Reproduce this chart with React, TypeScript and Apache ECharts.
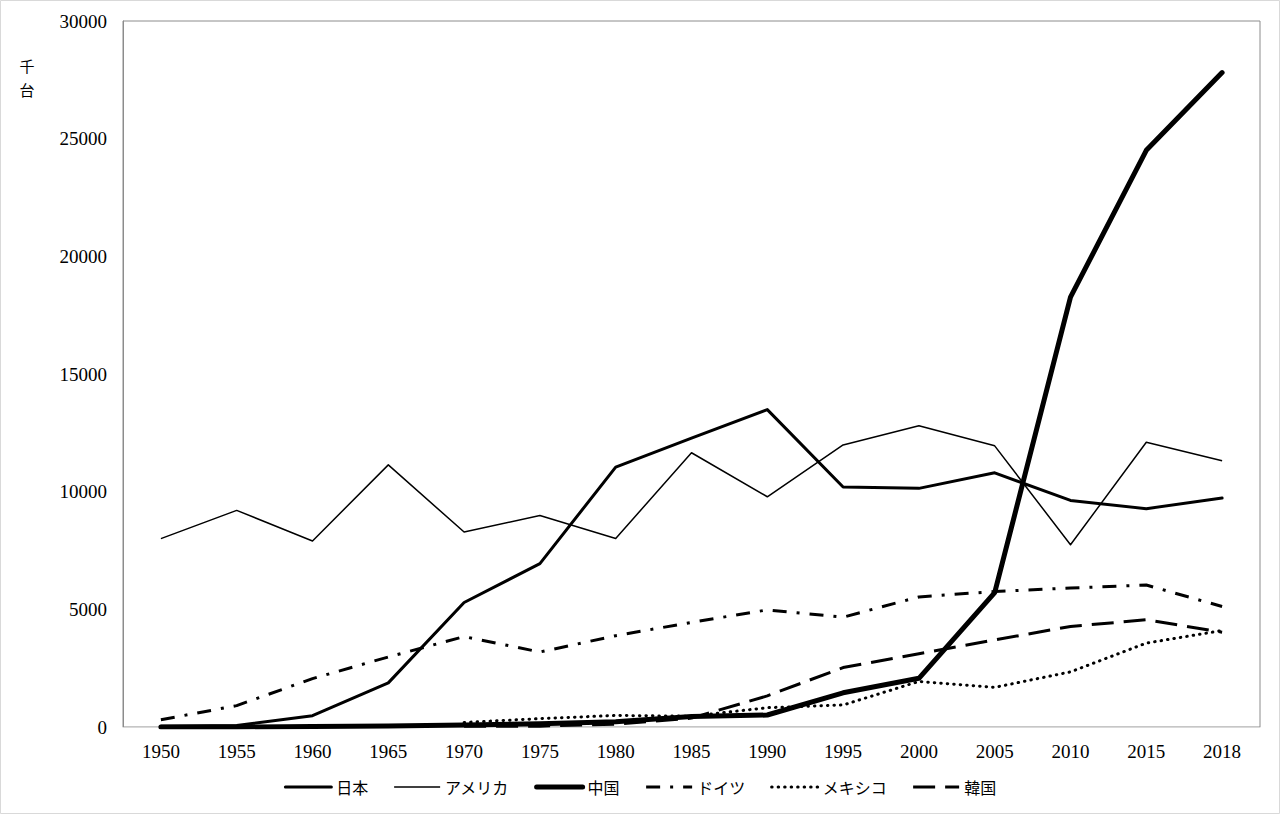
import React, { useEffect, useRef } from "react";
import * as echarts from "echarts";

const years = ["1950", "1955", "1960", "1965", "1970", "1975", "1980", "1985", "1990", "1995", "2000", "2005", "2010", "2015", "2018"];
const japan = [32, 69, 482, 1876, 5289, 6942, 11043, 12271, 13487, 10196, 10141, 10800, 9629, 9278, 9729];
const usa = [8006, 9204, 7905, 11138, 8284, 8987, 8010, 11653, 9783, 11985, 12800, 11947, 7743, 12100, 11315];
const china = [0, 0, 23, 41, 87, 140, 222, 443, 509, 1453, 2069, 5708, 18265, 24503, 27809];
const germany = [306, 909, 2055, 2976, 3842, 3186, 3879, 4446, 4977, 4667, 5527, 5758, 5906, 6033, 5120];
const mexico = [null, null, null, null, 193, 356, 490, 459, 821, 935, 1936, 1684, 2342, 3565, 4100];
const korea = [null, null, null, null, 29, 37, 123, 378, 1322, 2526, 3115, 3699, 4272, 4556, 4029];
const yTicks = { min: 0, max: 30000, interval: 5000 };

export default function App() {
  const ref = useRef<HTMLDivElement>(null);
  useEffect(() => {
    if (!ref.current) return;
    const chart = echarts.init(ref.current, null, { renderer: "svg" });
    const numFont = "'Liberation Serif', 'Noto Sans CJK JP', serif";
    const jpFont = "'Noto Sans CJK JP', sans-serif";
    const styles: any[] = [
      { name: "日本", data: japan, width: 3, type: "solid", cap: "round", z: 2 },
      { name: "アメリカ", data: usa, width: 1.5, type: "solid", cap: "butt", z: 2 },
      { name: "中国", data: china, width: 5, type: "solid", cap: "round", z: 4 },
      { name: "ドイツ", data: germany, width: 3, type: [14, 10, 3, 10], cap: "butt", z: 2 },
      { name: "メキシコ", data: mexico, width: 3, type: [0.5, 6], cap: "round", z: 2 },
      { name: "韓国", data: korea, width: 3, type: [22, 10], cap: "butt", z: 2 },
    ];
    const series = styles.map((s) => ({
      name: s.name,
      type: "line",
      data: s.data,
      symbol: "none",
      z: s.z,
      lineStyle: { color: "#000", width: s.width, type: s.type, cap: s.cap, join: "round" },
      itemStyle: { color: "#000" },
      emphasis: { disabled: true },
    }));
    const legendData = styles.map((s) => ({
      name: s.name,
      itemStyle: { opacity: 0 },
      lineStyle: { color: "#000", width: s.width, type: s.type, cap: s.cap },
    }));
    chart.setOption({
      animation: false,
      backgroundColor: "#fff",
      grid: { left: 123, right: 20, top: 21, bottom: 87, show: true, borderColor: "#8c8c8c", borderWidth: 1 },
      xAxis: {
        type: "category",
        data: years,
        boundaryGap: true,
        axisLine: { lineStyle: { color: "#d9d9d9", width: 1 } },
        axisTick: { show: false },
        axisLabel: { color: "#000", fontSize: 19, fontFamily: numFont, margin: 15 },
      },
      yAxis: {
        type: "value",
        min: yTicks.min,
        max: yTicks.max,
        interval: yTicks.interval,
        axisLine: { show: true, lineStyle: { color: "#8c8c8c" } },
        axisTick: { show: false },
        splitLine: { show: false },
        axisLabel: { color: "#000", fontSize: 19, fontFamily: numFont, margin: 16, formatter: (v: number) => String(v) },
      },
      legend: {
        bottom: 14,
        left: "center",
        itemWidth: 46,
        itemHeight: 14,
        itemGap: 25,
        itemStyle: { opacity: 0 },
        textStyle: { color: "#000", fontSize: 16, fontFamily: jpFont },
        data: legendData,
      },
      graphic: [
        { type: "rect", shape: { x: 0.5, y: 0.5, width: 1279, height: 813 }, style: { fill: "none", stroke: "#d9d9d9", lineWidth: 1 }, silent: true },
        { type: "text", x: 27, y: 57, style: { text: "千", fontSize: 15, lineHeight: 17, fontFamily: jpFont, fill: "#000", align: "center", verticalAlign: "top" } },
        { type: "text", x: 27, y: 81, style: { text: "台", fontSize: 15, lineHeight: 17, fontFamily: jpFont, fill: "#000", align: "center", verticalAlign: "top" } },
      ],
      series,
    });
    return () => chart.dispose();
  }, []);
  return <div ref={ref} style={{ position: "fixed", left: 0, top: 0, width: 1280, height: 814 }} />;
}
